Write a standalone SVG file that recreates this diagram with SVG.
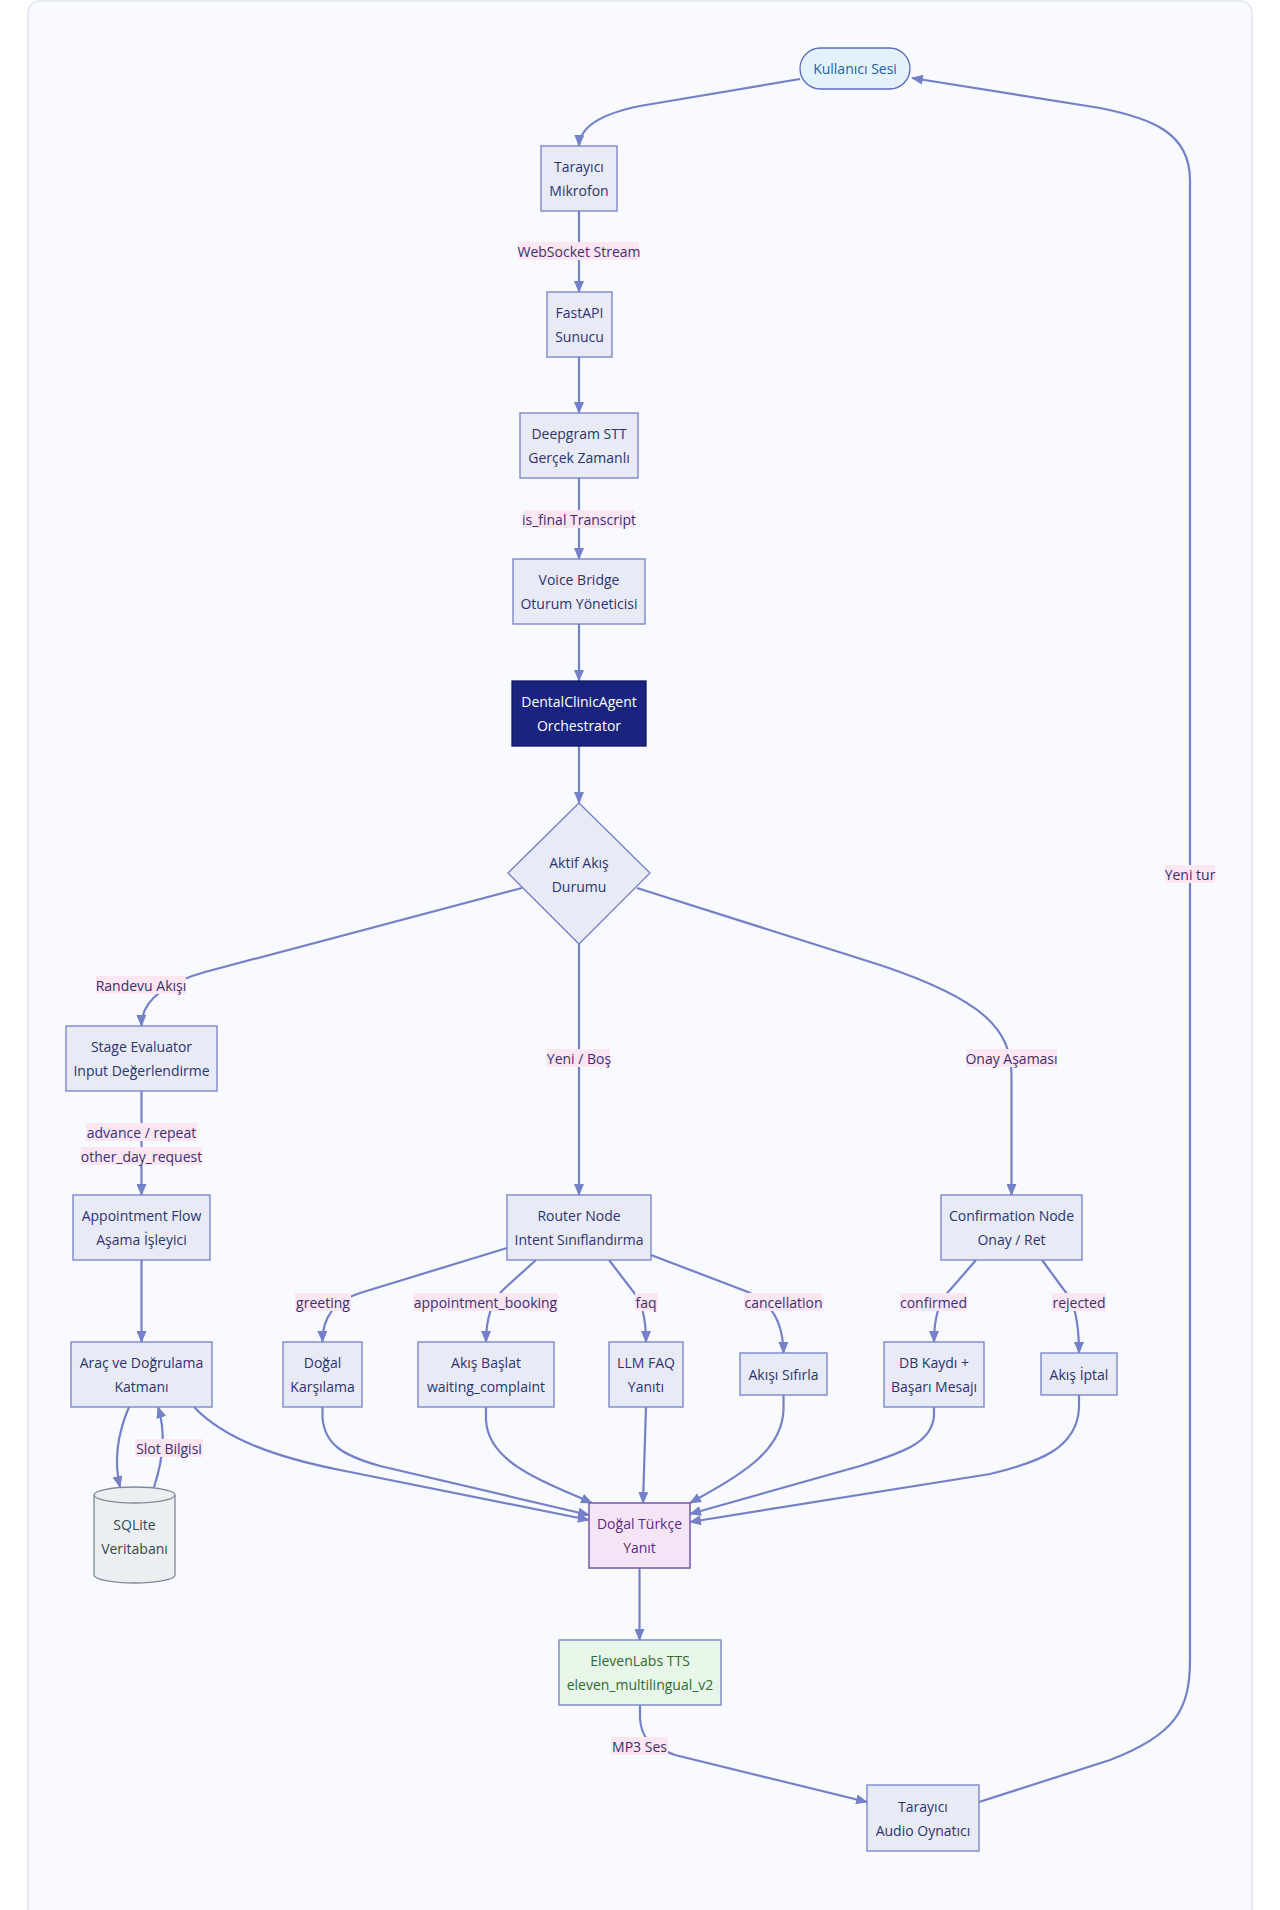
<svg xmlns="http://www.w3.org/2000/svg" width="1280" height="1910" viewBox="0 0 1280 1910">
<defs>
<marker id="arr" viewBox="0 0 12 10" refX="11" refY="5" markerWidth="12" markerHeight="10" markerUnits="userSpaceOnUse" orient="auto"><path d="M0,0 L12,5 L0,10 z" fill="#7480c8"/></marker>
<style>
text{font-family:"Open Sans","Noto Sans","Liberation Sans",sans-serif;font-size:14px;text-anchor:middle;dominant-baseline:central}
.n rect,.n polygon{fill:#e8eaf6;stroke:#7480c8;stroke-width:1.3}
.n text{fill:#2c3470}
.e path{fill:none;stroke:#7480c8;stroke-width:2.2;marker-end:url(#arr)}
.lb rect{fill:#fbe6f1}
.lb text{fill:#3b2f72}
</style>
</defs>
<rect x="28" y="1" width="1224" height="1940" rx="12" fill="#f8faff" stroke="#dfe5f0" stroke-width="1.5"/>

<g id="connectors" class="e">
<path d="M800,79 L640,106 Q580,118 579,146"/>
<path d="M579,211 L579,292"/>
<path d="M579,357 L579,413"/>
<path d="M579,478 L579,559"/>
<path d="M579,624 L579,681"/>
<path d="M579,746 L579,803"/>
<path d="M522,888 L205,972 Q141,990 141.5,1026"/>
<path d="M579,944 L579,1195"/>
<path d="M637,888 L880,965 C985,1000 1011,1030 1011.5,1075 L1011.5,1195"/>
<path d="M141.5,1091 L141.5,1195"/>
<path d="M141.5,1260 L141.5,1342"/>
<path d="M507,1248 L360,1293 Q322,1305 322.5,1342"/>
<path d="M536,1260 L505,1288 Q486,1305 486,1342"/>
<path d="M609,1260 L632,1290 Q646,1305 646,1342"/>
<path d="M651,1255 L748,1292 Q783,1307 783.5,1353"/>
<path d="M976,1260 L950,1290 Q934,1305 934,1342"/>
<path d="M1042,1260 L1064,1290 Q1079,1305 1079,1353"/>
<path d="M129,1407 C117,1435 114,1462 120,1487"/>
<path d="M154,1487 C163,1460 166,1432 158,1407"/>
<path d="M194,1407 C225,1440 280,1458 340,1470 L589,1520"/>
<path d="M322.5,1407 L322.5,1418 C325,1446 345,1456 380,1466 L589,1515"/>
<path d="M486,1407 L486,1420 C488,1462 540,1480 592,1503"/>
<path d="M646,1407 L643,1503"/>
<path d="M783.5,1395 L783.5,1410 C782,1452 740,1475 690,1503"/>
<path d="M934,1407 L934,1416 C932,1442 905,1452 860,1466 L690,1514"/>
<path d="M1079,1395 L1079,1408 C1077,1448 1040,1462 990,1474 L690,1522"/>
<path d="M639.5,1568 L639.5,1640"/>
<path d="M640,1705 L640,1718 C641,1738 650,1746 675,1755 L867,1802"/>
<path d="M979,1802 L1110,1760 C1175,1735 1190,1710 1190,1660 L1190,180 C1190,132 1150,118 1100,108 L912,78"/>
</g>

<g id="edge-labels" class="lb">
<rect x="518" y="242" width="121" height="18"/><text x="579" y="251">WebSocket Stream</text>
<rect x="523" y="510" width="111" height="18"/><text x="579" y="519">is_final Transcript</text>
<rect x="96" y="976" width="90" height="18"/><text x="141" y="985">Randevu Akışı</text>
<rect x="547" y="1049" width="63" height="18"/><text x="579" y="1058">Yeni / Boş</text>
<rect x="966" y="1049" width="91" height="18"/><text x="1011.5" y="1058">Onay Aşaması</text>
<rect x="86" y="1123" width="111" height="18"/><text x="141.5" y="1132">advance / repeat</text>
<rect x="81" y="1147" width="121" height="18"/><text x="141.5" y="1156">other_day_request</text>
<rect x="295" y="1293" width="56" height="18"/><text x="323" y="1302">greeting</text>
<rect x="413" y="1293" width="145" height="18"/><text x="485.5" y="1302">appointment_booking</text>
<rect x="635" y="1293" width="23" height="18"/><text x="646" y="1302">faq</text>
<rect x="744" y="1293" width="79" height="18"/><text x="783.5" y="1302">cancellation</text>
<rect x="900" y="1293" width="67" height="18"/><text x="933.5" y="1302">confirmed</text>
<rect x="1052" y="1293" width="54" height="18"/><text x="1079" y="1302">rejected</text>
<rect x="135" y="1439" width="68" height="18"/><text x="169" y="1448">Slot Bilgisi</text>
<rect x="611" y="1737" width="57" height="18"/><text x="639.5" y="1746">MP3 Ses</text>
<rect x="1165" y="865" width="50" height="18"/><text x="1190" y="874">Yeni tur</text>
</g>

<g id="user" class="n"><rect x="800" y="48" width="110" height="41" rx="20.5" style="fill:#e3f2fd;stroke:#5c6bc0"/><text x="855" y="68.5" style="fill:#1f5fa8">Kullanıcı Sesi</text></g>
<g id="mic" class="n"><rect x="541" y="146" width="76" height="65"/><text x="579" y="166.5">Tarayıcı</text><text x="579" y="190.5">Mikrofon</text></g>
<g id="fastapi" class="n"><rect x="547" y="292" width="65" height="65"/><text x="579.5" y="312.5">FastAPI</text><text x="579.5" y="336.5">Sunucu</text></g>
<g id="deepgram" class="n"><rect x="520" y="413" width="118" height="65"/><text x="579" y="433.5">Deepgram STT</text><text x="579" y="457.5">Gerçek Zamanlı</text></g>
<g id="voicebridge" class="n"><rect x="513" y="559" width="132" height="65"/><text x="579" y="579.5">Voice Bridge</text><text x="579" y="603.5">Oturum Yöneticisi</text></g>
<g id="agent" class="n"><rect x="512" y="681" width="134" height="65" style="fill:#1a237e;stroke:#10175e"/><text x="579" y="701.5" style="fill:#ffffff">DentalClinicAgent</text><text x="579" y="725.5" style="fill:#ffffff">Orchestrator</text></g>
<g id="state" class="n"><polygon points="579,803 650,873 579,944 508,873"/><text x="579" y="862">Aktif Akış</text><text x="579" y="886">Durumu</text></g>
<g id="stage" class="n"><rect x="66" y="1026" width="151" height="65"/><text x="141.5" y="1046.5">Stage Evaluator</text><text x="141.5" y="1070.5">Input Değerlendirme</text></g>
<g id="flow" class="n"><rect x="73" y="1195" width="137" height="65"/><text x="141.5" y="1215.5">Appointment Flow</text><text x="141.5" y="1239.5">Aşama İşleyici</text></g>
<g id="router" class="n"><rect x="507" y="1195" width="144" height="65"/><text x="579" y="1215.5">Router Node</text><text x="579" y="1239.5">Intent Sınıflandırma</text></g>
<g id="confirm" class="n"><rect x="941" y="1195" width="141" height="65"/><text x="1011.5" y="1215.5">Confirmation Node</text><text x="1011.5" y="1239.5">Onay / Ret</text></g>
<g id="tools" class="n"><rect x="71" y="1342" width="141" height="65"/><text x="141.5" y="1362.5">Araç ve Doğrulama</text><text x="141.5" y="1386.5">Katmanı</text></g>
<g id="greet" class="n"><rect x="283" y="1342" width="79" height="65"/><text x="322.5" y="1362.5">Doğal</text><text x="322.5" y="1386.5">Karşılama</text></g>
<g id="startflow" class="n"><rect x="418" y="1342" width="136" height="65"/><text x="486" y="1362.5">Akış Başlat</text><text x="486" y="1386.5">waiting_complaint</text></g>
<g id="faq" class="n"><rect x="609" y="1342" width="74" height="65"/><text x="646" y="1362.5">LLM FAQ</text><text x="646" y="1386.5">Yanıtı</text></g>
<g id="reset" class="n"><rect x="740" y="1353" width="87" height="42"/><text x="783.5" y="1374">Akışı Sıfırla</text></g>
<g id="dbsave" class="n"><rect x="884" y="1342" width="100" height="65"/><text x="934" y="1362.5">DB Kaydı +</text><text x="934" y="1386.5">Başarı Mesajı</text></g>
<g id="abort" class="n"><rect x="1041" y="1353" width="76" height="42"/><text x="1079" y="1374">Akış İptal</text></g>
<g id="sqlite" class="n"><path d="M94,1495 A40.5,8 0 0 1 175,1495 L175,1575 A40.5,8 0 0 1 94,1575 Z" fill="#eceff1" stroke="#7d8a9a" stroke-width="1.3"/><path d="M94,1495 A40.5,8 0 0 0 175,1495" fill="none" stroke="#7d8a9a" stroke-width="1.3"/><text x="134.5" y="1524" style="fill:#37474f">SQLite</text><text x="134.5" y="1548" style="fill:#37474f">Veritabanı</text></g>
<g id="reply" class="n"><rect x="589" y="1503" width="101" height="65" style="fill:#f3e5f5;stroke:#7b62a8;stroke-width:1.6"/><text x="639.5" y="1523.5" style="fill:#5e2a84">Doğal Türkçe</text><text x="639.5" y="1547.5" style="fill:#5e2a84">Yanıt</text></g>
<g id="tts" class="n"><rect x="559" y="1640" width="162" height="65" style="fill:#e8f5e9;stroke:#6b7fc0"/><text x="640" y="1660.5" style="fill:#2e6b32">ElevenLabs TTS</text><text x="640" y="1684.5" style="fill:#2e6b32">eleven_multilingual_v2</text></g>
<g id="player" class="n"><rect x="867" y="1785" width="112" height="66"/><text x="923" y="1806">Tarayıcı</text><text x="923" y="1830">Audio Oynatıcı</text></g>
</svg>
